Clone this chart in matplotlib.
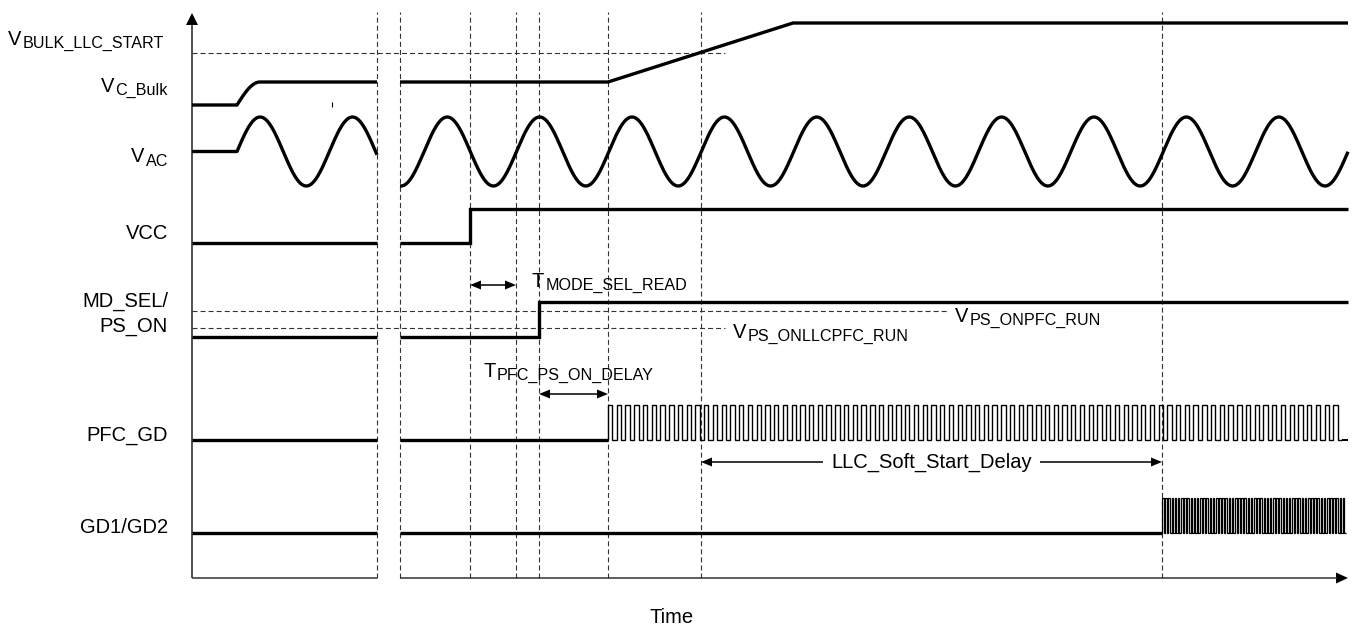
import numpy as np
import matplotlib
matplotlib.use("Agg")
import matplotlib.pyplot as plt
from matplotlib.patches import Polygon

plt.rcParams['font.family'] = ['Liberation Sans', 'DejaVu Sans']
plt.rcParams['lines.scale_dashes'] = False

# ---------------- data (time units, level units) ----------------
T_END = 1156
BREAK = [185, 208]                      # axis break (time skipped)
t_bulk_rise, t_bulk_settle = 45, 68
t_vcc_on = 278
t_mode_read_end = 324
t_ps_on = 347
t_pfc_start = 416
t_ramp_end = 601
t_llc_delay = 509
t_gd_start = 970
event_lines = [185, 208, 278, 324, 347, 416, 509, 970]

signal_names = ["VCC", "MD_SEL/", "PS_ON", "PFC_GD", "GD1/GD2"]
bulk_levels = [473, 496, 555]            # initial, pre-PFC, final
bulk_llc_start = 525
ac_center, ac_amp, ac_period = 426.5, 34.5, 92.4
ac_right_trough = 209
vcc_levels = [335, 369]
ps_levels = [241, 276]
ps_thr_pfc, ps_thr_llc = 267, 250
pfc_levels = [138, 173]
pfc_pulses, pfc_end = 84, 1150
gd_levels = [45, 80]
gd_pulses, gd_end = 58, 1154

# ---------------- figure ----------------
fig = plt.figure(figsize=(13.52, 6.27), dpi=100)
ax = fig.add_axes([0, 0, 1, 1])
ax.set_xlim(-192, 1160)
ax.set_ylim(-49, 578)
ax.axis('off')
renderer = fig.canvas.get_renderer()

K = 'black'
LW = 2.4
FS, FS_SUB = 14.5, 11.6
DASH = (0, (3.6, 2.2))
DCOL = '#333333'


def seg(x, y, **kw):
    kw.setdefault('color', K)
    kw.setdefault('lw', LW)
    kw.setdefault('solid_capstyle', 'butt')
    kw.setdefault('solid_joinstyle', 'miter')
    ax.plot(x, y, **kw)


def step(t0, t1, edge, lo, hi):
    if edge is None or edge >= t1:
        seg([t0, t1], [lo, lo])
    else:
        seg([t0, edge, edge, t1], [lo, lo, hi, hi])


def pulses(t0, t1, n, lo, hi, lw):
    p = (t1 - t0) / n
    xs, ys = [], []
    for i in range(n):
        a = t0 + i * p
        xs += [a, a, a + p / 2, a + p / 2]
        ys += [lo, hi, hi, lo]
    xs.append(t1)
    ys.append(lo)
    seg(xs, ys, lw=lw)


def head(x, y, d, L=11, W=9):
    if d == 'r':
        pts = [(x, y), (x - L, y + W / 2), (x - L, y - W / 2)]
    elif d == 'l':
        pts = [(x, y), (x + L, y + W / 2), (x + L, y - W / 2)]
    else:  # up
        pts = [(x, y), (x - W / 2, y - L), (x + W / 2, y - L)]
    ax.add_patch(Polygon(pts, closed=True, color=K, lw=0))


def sub_label(x, y, main, sub, align='left', dy=3, gap=1.5):
    t1 = ax.text(x, y, main, fontsize=FS, va='baseline', ha='left')
    t2 = ax.text(x, y - dy, sub, fontsize=FS_SUB, va='baseline', ha='left')
    w1 = t1.get_window_extent(renderer).width + gap
    w2 = t2.get_window_extent(renderer).width
    x0 = x - (w1 + w2) if align == 'right' else x
    t1.set_x(x0)
    t2.set_x(x0 + w1)


# ---------------- axes ----------------
seg([0, 0], [0, 553], lw=1.1, color='#222222')
head(0, 565, 'u', L=12, W=12)
seg([0, BREAK[0]], [0, 0], lw=1.1, color='#333333')
seg([BREAK[1], T_END - 11], [0, 0], lw=1.1, color='#333333')
head(T_END, 0, 'r', L=12, W=11)

# dashed event lines
for t in event_lines:
    ax.plot([t, t], [0, 566], color=DCOL, lw=0.8, ls=DASH)

# dashed threshold lines
ax.plot([0, 533], [bulk_llc_start] * 2, color=DCOL, lw=0.8, ls=DASH)
ax.plot([0, 756], [ps_thr_pfc] * 2, color=DCOL, lw=0.8, ls=DASH)
ax.plot([0, 533], [ps_thr_llc] * 2, color=DCOL, lw=0.8, ls=DASH)

# ---------------- V_C_Bulk ----------------
s = np.linspace(0, 1, 30)
xb = np.concatenate([[0], t_bulk_rise + s * (t_bulk_settle - t_bulk_rise), [BREAK[0]]])
yb = np.concatenate([[bulk_levels[0]],
                     bulk_levels[0] + (bulk_levels[1] - bulk_levels[0]) * np.sin(np.pi / 2 * s),
                     [bulk_levels[1]]])
seg(xb, yb, solid_joinstyle='round')
seg([BREAK[1], t_pfc_start, t_ramp_end, T_END],
    [bulk_levels[1], bulk_levels[1], bulk_levels[2], bulk_levels[2]])
seg([140, 140], [471, 476], lw=0.8)

# ---------------- V_AC ----------------
xa = np.linspace(t_bulk_rise, BREAK[0], 200)
ya = ac_center + ac_amp * np.sin(2 * np.pi * (xa - t_bulk_rise) / ac_period)
seg(np.concatenate([[0], xa]), np.concatenate([[ac_center], ya]), solid_joinstyle='round')
xr = np.linspace(BREAK[1], T_END, 1200)
yr = ac_center - ac_amp * np.cos(2 * np.pi * (xr - ac_right_trough) / ac_period)
seg(xr, yr, solid_joinstyle='round')

# ---------------- VCC ----------------
step(0, BREAK[0], None, *vcc_levels)
step(BREAK[1], T_END, t_vcc_on, *vcc_levels)

# ---------------- MD_SEL / PS_ON ----------------
step(0, BREAK[0], None, *ps_levels)
step(BREAK[1], T_END, t_ps_on, *ps_levels)

# ---------------- PFC_GD ----------------
step(0, BREAK[0], None, *pfc_levels)
seg([BREAK[1], t_pfc_start], [pfc_levels[0]] * 2)
pulses(t_pfc_start, pfc_end, pfc_pulses, pfc_levels[0], pfc_levels[1], 1.0)
seg([pfc_end, T_END], [pfc_levels[0]] * 2, lw=1.4)

# ---------------- GD1/GD2 ----------------
step(0, BREAK[0], None, *gd_levels)
seg([BREAK[1], t_gd_start], [gd_levels[0]] * 2)
pulses(t_gd_start, gd_end, gd_pulses, gd_levels[0], gd_levels[1], 0.9)

# ---------------- timing arrows ----------------
def dbl_arrow(t0, t1, y):
    seg([t0 + 10, t1 - 10], [y, y], lw=1.1)
    head(t0, y, 'l')
    head(t1, y, 'r')

dbl_arrow(t_vcc_on, t_mode_read_end, 293)
dbl_arrow(t_ps_on, t_pfc_start, 184)

y_llc = 116
seg([t_llc_delay + 10, 631], [y_llc] * 2, lw=1.1)
seg([848, t_gd_start - 10], [y_llc] * 2, lw=1.1)
head(t_llc_delay, y_llc, 'l')
head(t_gd_start, y_llc, 'r')
ax.text(739.5, y_llc, "LLC_Soft_Start_Delay", fontsize=FS, ha='center', va='center')

sub_label(340, 291, "T", "MODE_SEL_READ")
sub_label(291, 201, "T", "PFC_PS_ON_DELAY")
sub_label(763, 256, "V", "PS_ONPFC_RUN")
sub_label(541, 240, "V", "PS_ONLLCPFC_RUN")

# ---------------- left labels ----------------
sub_label(-184, 533, "V", "BULK_LLC_START")
sub_label(-24, 486, "V", "C_Bulk", align='right')
sub_label(-24, 416, "V", "AC", align='right', dy=4)
ax.text(-24, 339, signal_names[0], fontsize=FS, ha='right', va='baseline')
ax.text(-24, 271, signal_names[1], fontsize=FS, ha='right', va='baseline')
ax.text(-24, 246, signal_names[2], fontsize=FS, ha='right', va='baseline')
ax.text(-24, 137, signal_names[3], fontsize=FS, ha='right', va='baseline')
ax.text(-24, 45, signal_names[4], fontsize=FS, ha='right', va='baseline')

ax.text(480, -45, "Time", fontsize=FS, ha='center', va='baseline')

fig.savefig("out.png", dpi=100)
